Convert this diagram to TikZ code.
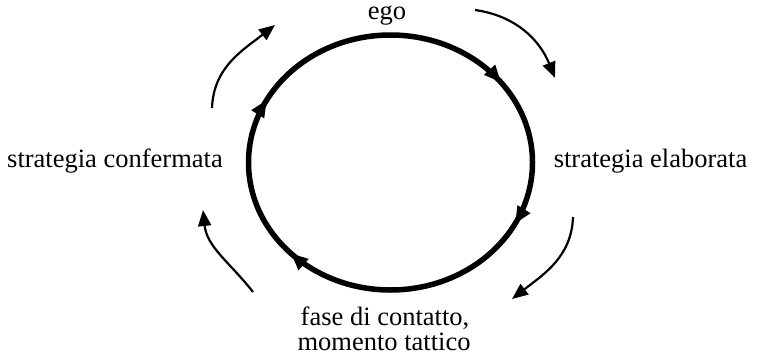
\documentclass[tikz,border=0pt]{standalone}
\usepackage{fontspec}
\setmainfont{Liberation Serif}
\usetikzlibrary{arrows.meta,decorations.markings,calc}
\begin{document}
\begin{tikzpicture}[x=1pt,y=1pt,
  lbl/.style={font=\fontsize{26.5}{30}\selectfont, inner sep=0pt, anchor=base},
  ringtip/.tip={Triangle[length=17pt,width=14pt]},
  ring/.style={line width=5.5pt, postaction={decorate},
    decoration={markings,
      mark=at position 0.146 with {\arrow{ringtip}},
      mark=at position 0.326 with {\arrow{ringtip}},
      mark=at position 0.628 with {\arrow{ringtip}},
      mark=at position 0.828 with {\arrow{ringtip}}}},
  flow/.style={line width=2.2pt, -{Triangle[length=16pt,width=13pt]}}]
\useasboundingbox (0,0) rectangle (757,360);
\coordinate (C) at (390.5,197.5);
\coordinate (top) at (390.5,325);
% cycle
\draw[ring] (top) arc[start angle=90, end angle=-270, x radius=142, y radius=127.5] -- cycle;
% labels
\node[lbl] (ego) at (387,340.5) {ego};
\node[lbl] (conf) at (115,193) {strategia confermata};
\node[lbl] (elab) at (650.5,193) {strategia elaborata};
\node[lbl] (fase) at (385,35) {fase di contatto,};
\node[lbl] (mom) at (384,10) {momento tattico};
% outer arrows
\coordinate (a1s) at (212,252);
\coordinate (a1e) at (275,335);
\coordinate (a2s) at (475,350);
\coordinate (a2e) at (555,282);
\coordinate (a3s) at (573,143);
\coordinate (a3e) at (512,61);
\coordinate (a4s) at (253,68);
\coordinate (a4e) at (203,150);
\draw[flow] (a1s) to[out=88,in=218] (a1e);
\draw[flow] (a2s) to[out=-8,in=112] (a2e);
\draw[flow] (a3s) to[out=-92,in=38] (a3e);
\draw[flow] (a4s) to[out=128,in=-84] (a4e);
\end{tikzpicture}
\end{document}
